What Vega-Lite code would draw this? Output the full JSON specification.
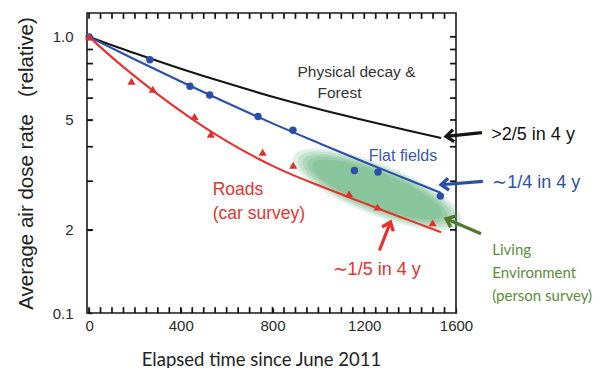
{
  "$schema": "https://vega.github.io/schema/vega-lite/v6.json",
  "width": 369,
  "height": 300,
  "autosize": {"type": "none"},
  "padding": {"left": 87, "top": 13, "right": 155, "bottom": 55},
  "background": "white",
  "config": {
    "view": {"stroke": "#1a1a1a", "strokeWidth": 1.6},
    "axis": {
      "domain": false, "offset": -5, "zindex": 1,
      "ticks": true, "tickColor": "#1a1a1a", "tickWidth": 1.3, "tickSize": 5, "tickOpacity": 1,
      "grid": false,
      "labelFont": "Liberation Sans", "labelFontSize": 15, "labelColor": "#2a2a2a",
      "labelOverlap": false, "labelFlush": false, "labelBound": false,
      "titleFontWeight": "normal", "titleColor": "#222"
    }
  },
  "datasets": {
    "ell": [{"t": 1257, "v": 0.28}],
    "xt": [{"t": 0}, {"t": 50}, {"t": 100}, {"t": 150}, {"t": 200}, {"t": 250}, {"t": 300}, {"t": 350}, {"t": 400}, {"t": 450}, {"t": 500}, {"t": 550}, {"t": 600}, {"t": 650}, {"t": 700}, {"t": 750}, {"t": 800}, {"t": 850}, {"t": 900}, {"t": 950}, {"t": 1000}, {"t": 1050}, {"t": 1100}, {"t": 1150}, {"t": 1200}, {"t": 1250}, {"t": 1300}, {"t": 1350}, {"t": 1400}, {"t": 1450}, {"t": 1500}, {"t": 1550}],
    "yt": [{"v": 0.2}, {"v": 0.3}, {"v": 0.4}, {"v": 0.5}, {"v": 0.6}, {"v": 0.7}, {"v": 0.8}, {"v": 0.9}, {"v": 1.0}],
    "curves": [
      {"s": "Physical decay & Forest", "t": 0, "v": 1.0},
      {"s": "Physical decay & Forest", "t": 200, "v": 0.872},
      {"s": "Physical decay & Forest", "t": 400, "v": 0.767},
      {"s": "Physical decay & Forest", "t": 600, "v": 0.68},
      {"s": "Physical decay & Forest", "t": 800, "v": 0.607},
      {"s": "Physical decay & Forest", "t": 1000, "v": 0.548},
      {"s": "Physical decay & Forest", "t": 1200, "v": 0.499},
      {"s": "Physical decay & Forest", "t": 1400, "v": 0.456},
      {"s": "Physical decay & Forest", "t": 1535, "v": 0.43},
      {"s": "Flat fields", "t": 0, "v": 1.0},
      {"s": "Flat fields", "t": 200, "v": 0.828},
      {"s": "Flat fields", "t": 400, "v": 0.689},
      {"s": "Flat fields", "t": 600, "v": 0.577},
      {"s": "Flat fields", "t": 800, "v": 0.486},
      {"s": "Flat fields", "t": 1000, "v": 0.413},
      {"s": "Flat fields", "t": 1200, "v": 0.352},
      {"s": "Flat fields", "t": 1400, "v": 0.302},
      {"s": "Flat fields", "t": 1535, "v": 0.272},
      {"s": "Roads", "t": 0, "v": 1.0},
      {"s": "Roads", "t": 100, "v": 0.843},
      {"s": "Roads", "t": 200, "v": 0.719},
      {"s": "Roads", "t": 300, "v": 0.619},
      {"s": "Roads", "t": 400, "v": 0.538},
      {"s": "Roads", "t": 500, "v": 0.472},
      {"s": "Roads", "t": 600, "v": 0.419},
      {"s": "Roads", "t": 700, "v": 0.376},
      {"s": "Roads", "t": 800, "v": 0.341},
      {"s": "Roads", "t": 900, "v": 0.313},
      {"s": "Roads", "t": 1000, "v": 0.29},
      {"s": "Roads", "t": 1100, "v": 0.269},
      {"s": "Roads", "t": 1200, "v": 0.25},
      {"s": "Roads", "t": 1300, "v": 0.232},
      {"s": "Roads", "t": 1400, "v": 0.216},
      {"s": "Roads", "t": 1535, "v": 0.196}
    ],
    "dots": [
      {"t": 0, "v": 1.0}, {"t": 265, "v": 0.826}, {"t": 440, "v": 0.662},
      {"t": 526, "v": 0.616}, {"t": 737, "v": 0.515}, {"t": 889, "v": 0.459},
      {"t": 1157, "v": 0.328}, {"t": 1260, "v": 0.324}, {"t": 1532, "v": 0.265}
    ],
    "tris": [
      {"t": 0, "v": 1.0}, {"t": 185, "v": 0.69}, {"t": 278, "v": 0.646},
      {"t": 460, "v": 0.515}, {"t": 531, "v": 0.444}, {"t": 757, "v": 0.382},
      {"t": 890, "v": 0.343}, {"t": 1134, "v": 0.27}, {"t": 1258, "v": 0.242},
      {"t": 1498, "v": 0.212}
    ],
    "arrows": [
      {"s": "Physical decay & Forest", "t1": 1713, "v1": 0.45, "t2": 1557, "v2": 0.436},
      {"s": "Flat fields", "t1": 1717, "v1": 0.2996, "t2": 1535, "v2": 0.2914},
      {"s": "Living Environment", "t1": 1709, "v1": 0.1936, "t2": 1557, "v2": 0.2195},
      {"s": "Roads", "t1": 1266, "v1": 0.1684, "t2": 1314, "v2": 0.2133}
    ]
  },
  "resolve": {"axis": {"x": "independent", "y": "independent"}},
  "layer": [
    {
      "data": {"name": "ell"},
      "mark": {"type": "point", "shape": "M-1.06,0C-1.06,-0.1657,-0.5854,-0.3,0,-0.3C0.5854,-0.3,1.06,-0.1657,1.06,0C1.06,0.1657,0.5854,0.3,0,0.3C-0.5854,0.3,-1.06,0.1657,-1.06,0Z", "size": 28900, "filled": true, "color": "#66b47e", "opacity": 0.2, "strokeWidth": 0, "angle": 21.5},
      "encoding": {
        "x": {"field": "t", "type": "quantitative", "scale": {"domain": [-9, 1600], "nice": false, "zero": false},
          "axis": {"orient": "bottom", "values": [0,400,800,1200,1600], "format": "d",
            "labelPadding": 5,
            "title": "Elapsed time since June 2011", "titleFont": "Lato", "titleFontSize": 18.5, "titlePadding": 17, "titleX": 174}},
        "y": {"field": "v", "type": "quantitative", "scale": {"type": "log", "domain": [0.1, 1.22], "nice": false},
          "axis": {"orient": "left", "values": [0.1,0.2,0.5,1.0],
            "labelExpr": "datum.value == 1 ? '1.0' : datum.value == 0.5 ? '5' : datum.value == 0.2 ? '2' : '0.1'",
            "labelPadding": 14,
            "title": "Average air dose rate \u00a0\u00a0(relative)", "titleFont": "Liberation Sans", "titleFontSize": 20.5, "titlePadding": 16}}
      }
    },
    {
      "data": {"name": "ell"},
      "mark": {"type": "point", "shape": "M-1,0C-1,-0.1519,-0.5523,-0.275,0,-0.275C0.5523,-0.275,1,-0.1519,1,0C1,0.1519,0.5523,0.275,0,0.275C-0.5523,0.275,-1,0.1519,-1,0Z", "size": 28900, "filled": true, "color": "#66b47e", "opacity": 0.22, "strokeWidth": 0, "angle": 21.5},
      "encoding": {
        "x": {"field": "t", "type": "quantitative", "axis": null},
        "y": {"field": "v", "type": "quantitative", "axis": null}
      }
    },
    {
      "data": {"name": "ell"},
      "mark": {"type": "point", "shape": "M-0.94,0C-0.94,-0.1381,-0.5192,-0.25,0,-0.25C0.5192,-0.25,0.94,-0.1381,0.94,0C0.94,0.1381,0.5192,0.25,0,0.25C-0.5192,0.25,-0.94,0.1381,-0.94,0Z", "size": 28900, "filled": true, "color": "#66b47e", "opacity": 0.25, "strokeWidth": 0, "angle": 21.5},
      "encoding": {
        "x": {"field": "t", "type": "quantitative", "axis": null},
        "y": {"field": "v", "type": "quantitative", "axis": null}
      }
    },
    {
      "data": {"name": "ell"},
      "mark": {"type": "point", "shape": "M-0.88,0C-0.88,-0.1243,-0.486,-0.225,0,-0.225C0.486,-0.225,0.88,-0.1243,0.88,0C0.88,0.1243,0.486,0.225,0,0.225C-0.486,0.225,-0.88,0.1243,-0.88,0Z", "size": 28900, "filled": true, "color": "#66b47e", "opacity": 0.28, "strokeWidth": 0, "angle": 21.5},
      "encoding": {
        "x": {"field": "t", "type": "quantitative", "axis": null},
        "y": {"field": "v", "type": "quantitative", "axis": null}
      }
    },
    {
      "data": {"name": "ell"},
      "mark": {"type": "point", "shape": "M-0.82,0C-0.82,-0.1105,-0.4529,-0.2,0,-0.2C0.4529,-0.2,0.82,-0.1105,0.82,0C0.82,0.1105,0.4529,0.2,0,0.2C-0.4529,0.2,-0.82,0.1105,-0.82,0Z", "size": 28900, "filled": true, "color": "#66b47e", "opacity": 0.32, "strokeWidth": 0, "angle": 21.5},
      "encoding": {
        "x": {"field": "t", "type": "quantitative", "axis": null},
        "y": {"field": "v", "type": "quantitative", "axis": null}
      }
    },
    {
      "data": {"name": "xt"},
      "mark": {"type": "rule", "strokeWidth": 1.7, "color": "#111", "opacity": 1},
      "encoding": {
        "x": {"field": "t", "type": "quantitative", "axis": null},
        "y": {"datum": 0.1, "type": "quantitative", "axis": null},
        "y2": {"datum": 0.105}
      }
    },
    {
      "data": {"name": "xt"},
      "mark": {"type": "rule", "strokeWidth": 1.7, "color": "#111", "opacity": 1},
      "encoding": {
        "x": {"field": "t", "type": "quantitative", "axis": null},
        "y": {"datum": 1.22, "type": "quantitative", "axis": null},
        "y2": {"datum": 1.162}
      }
    },
    {
      "data": {"name": "yt"},
      "mark": {"type": "rule", "strokeWidth": 1.7, "color": "#111", "opacity": 1},
      "encoding": {
        "x": {"datum": -9, "type": "quantitative", "axis": null},
        "x2": {"datum": 17},
        "y": {"field": "v", "type": "quantitative", "axis": null}
      }
    },
    {
      "data": {"name": "yt"},
      "mark": {"type": "rule", "strokeWidth": 1.7, "color": "#111", "opacity": 1},
      "encoding": {
        "x": {"datum": 1600, "type": "quantitative", "axis": null},
        "x2": {"datum": 1574},
        "y": {"field": "v", "type": "quantitative", "axis": null}
      }
    },
    {
      "data": {"name": "curves"},
      "mark": {"type": "line", "interpolate": "monotone", "strokeWidth": 2.1},
      "encoding": {
        "x": {"field": "t", "type": "quantitative", "axis": null},
        "y": {"field": "v", "type": "quantitative", "axis": null},
        "color": {"field": "s", "type": "nominal", "legend": null,
          "scale": {"domain": ["Physical decay & Forest", "Flat fields", "Roads", "Living Environment"], "range": ["#151515", "#2b4fa8", "#e8302d", "#4f7a2e"]}}
      }
    },
    {
      "data": {"name": "dots"},
      "mark": {"type": "point", "shape": "circle", "filled": true, "size": 55, "color": "#2b4fa8", "opacity": 1},
      "encoding": {
        "x": {"field": "t", "type": "quantitative", "axis": null},
        "y": {"field": "v", "type": "quantitative", "axis": null}
      }
    },
    {
      "data": {"name": "tris"},
      "mark": {"type": "point", "shape": "triangle-up", "filled": true, "size": 65, "color": "#e0302d", "opacity": 1},
      "encoding": {
        "x": {"field": "t", "type": "quantitative", "axis": null},
        "y": {"field": "v", "type": "quantitative", "axis": null}
      }
    },
    {
      "data": {"name": "arrows"},
      "mark": {"type": "rule", "strokeWidth": 3.2, "strokeCap": "butt"},
      "encoding": {
        "x": {"field": "t1", "type": "quantitative", "axis": null},
        "y": {"field": "v1", "type": "quantitative", "axis": null},
        "x2": {"field": "t2"},
        "y2": {"field": "v2"},
        "color": {"field": "s", "type": "nominal", "legend": null}
      }
    },
    {
      "data": {"name": "arrows"},
      "transform": [{"filter": "datum.s == 'Physical decay & Forest'"}],
      "mark": {"type": "point", "shape": "M1,-0.8L0,0L1,0.8", "filled": false, "strokeWidth": 3.4, "size": 225, "angle": -6, "color": "#151515", "opacity": 1, "strokeJoin": "miter"},
      "encoding": {
        "x": {"field": "t2", "type": "quantitative", "axis": null},
        "y": {"field": "v2", "type": "quantitative", "axis": null}
      }
    },
    {
      "data": {"name": "arrows"},
      "transform": [{"filter": "datum.s == 'Flat fields'"}],
      "mark": {"type": "point", "shape": "M1,-0.8L0,0L1,0.8", "filled": false, "strokeWidth": 3.4, "size": 225, "angle": -4.5, "color": "#2b4fa8", "opacity": 1, "strokeJoin": "miter"},
      "encoding": {
        "x": {"field": "t2", "type": "quantitative", "axis": null},
        "y": {"field": "v2", "type": "quantitative", "axis": null}
      }
    },
    {
      "data": {"name": "arrows"},
      "transform": [{"filter": "datum.s == 'Living Environment'"}],
      "mark": {"type": "point", "shape": "M1,-0.8L0,0L1,0.8", "filled": false, "strokeWidth": 3.4, "size": 225, "angle": 23, "color": "#4f7a2e", "opacity": 1, "strokeJoin": "miter"},
      "encoding": {
        "x": {"field": "t2", "type": "quantitative", "axis": null},
        "y": {"field": "v2", "type": "quantitative", "axis": null}
      }
    },
    {
      "data": {"name": "arrows"},
      "transform": [{"filter": "datum.s == 'Roads'"}],
      "mark": {"type": "point", "shape": "M1,-0.8L0,0L1,0.8", "filled": false, "strokeWidth": 3.4, "size": 225, "angle": 111, "color": "#e8302d", "opacity": 1, "strokeJoin": "miter"},
      "encoding": {
        "x": {"field": "t2", "type": "quantitative", "axis": null},
        "y": {"field": "v2", "type": "quantitative", "axis": null}
      }
    },
    {
      "data": {"values": [{"txt": "Physical decay &", "t": 1166, "v": 0.7435}, {"txt": "Forest", "t": 1092, "v": 0.624}]},
      "mark": {"type": "text", "font": "Liberation Sans", "fontSize": 15.5, "align": "center", "baseline": "middle", "color": "#333"},
      "encoding": {
        "x": {"field": "t", "type": "quantitative", "axis": null},
        "y": {"field": "v", "type": "quantitative", "axis": null},
        "text": {"field": "txt"}
      }
    },
    {
      "data": {"values": [{"txt": "Flat fields", "t": 1369, "v": 0.369}]},
      "mark": {"type": "text", "font": "Liberation Sans", "fontSize": 16, "align": "center", "baseline": "middle", "color": "#3a5aae"},
      "encoding": {
        "x": {"field": "t", "type": "quantitative", "axis": null},
        "y": {"field": "v", "type": "quantitative", "axis": null},
        "text": {"field": "txt"}
      }
    },
    {
      "data": {"values": [{"txt": "Roads", "t": 539, "v": 0.278}, {"txt": "(car survey)", "t": 539, "v": 0.229}]},
      "mark": {"type": "text", "font": "Liberation Sans", "fontSize": 17.5, "align": "left", "baseline": "middle", "color": "#e3342f"},
      "encoding": {
        "x": {"field": "t", "type": "quantitative", "axis": null},
        "y": {"field": "v", "type": "quantitative", "axis": null},
        "text": {"field": "txt"}
      }
    },
    {
      "data": {"values": [{"txt": ">2/5 in 4 y", "t": 1754, "v": 0.44}]},
      "mark": {"type": "text", "font": "Liberation Sans", "fontSize": 18, "align": "left", "baseline": "middle", "color": "#111"},
      "encoding": {
        "x": {"field": "t", "type": "quantitative", "axis": null},
        "y": {"field": "v", "type": "quantitative", "axis": null},
        "text": {"field": "txt"}
      }
    },
    {
      "data": {"values": [{"txt": "∼1/4 in 4 y", "t": 1758, "v": 0.2945}]},
      "mark": {"type": "text", "font": "Liberation Sans", "fontSize": 18, "align": "left", "baseline": "middle", "color": "#2b4fa8"},
      "encoding": {
        "x": {"field": "t", "type": "quantitative", "axis": null},
        "y": {"field": "v", "type": "quantitative", "axis": null},
        "text": {"field": "txt"}
      }
    },
    {
      "data": {"values": [{"txt": "∼1/5 in 4 y", "t": 1062, "v": 0.1426}]},
      "mark": {"type": "text", "font": "Liberation Sans", "fontSize": 18, "align": "left", "baseline": "middle", "color": "#e3342f"},
      "encoding": {
        "x": {"field": "t", "type": "quantitative", "axis": null},
        "y": {"field": "v", "type": "quantitative", "axis": null},
        "text": {"field": "txt"}
      }
    },
    {
      "data": {"values": [{"txt": "Living", "t": 1758, "v": 0.1684}, {"txt": "Environment", "t": 1758, "v": 0.14}, {"txt": "(person survey)", "t": 1758, "v": 0.1157}]},
      "mark": {"type": "text", "font": "Lato", "fontSize": 15, "align": "left", "baseline": "middle", "color": "#5e8c3c"},
      "encoding": {
        "x": {"field": "t", "type": "quantitative", "axis": null},
        "y": {"field": "v", "type": "quantitative", "axis": null},
        "text": {"field": "txt"}
      }
    }
  ]
}
